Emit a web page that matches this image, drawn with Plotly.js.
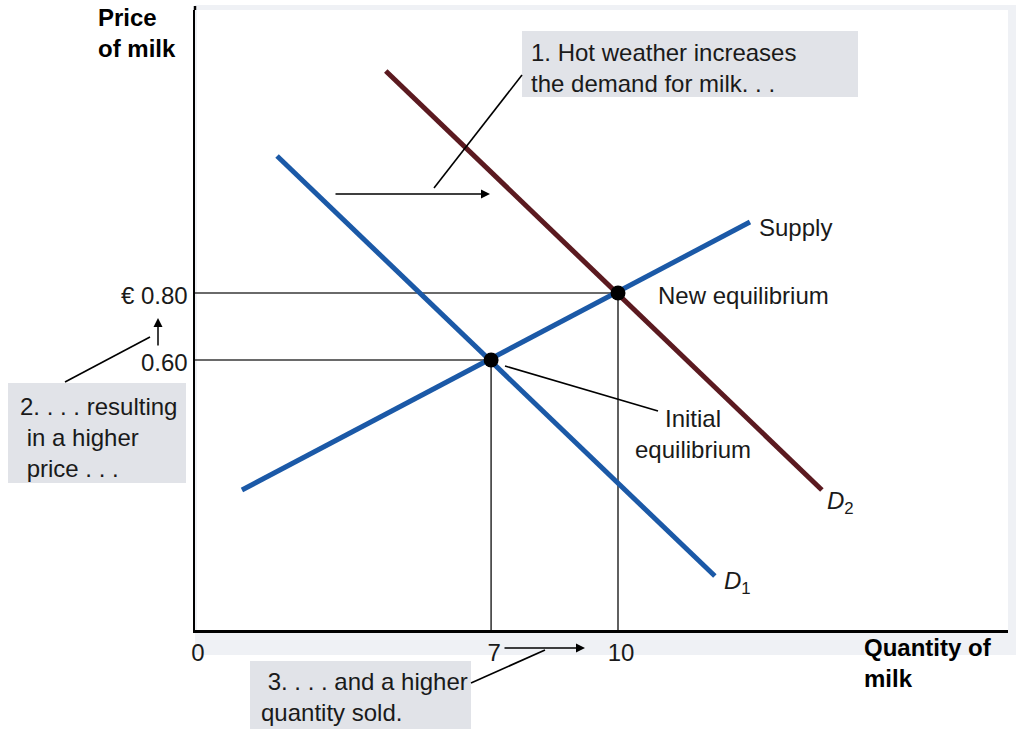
<!DOCTYPE html>
<html>
<head>
<meta charset="utf-8">
<script src="https://cdn.plot.ly/plotly-3.0.1.min.js"></script>
<style>html,body{margin:0;padding:0;background:#fff;}#chart{width:1016px;height:729px;}</style>
</head>
<body>
<div id="chart"></div>
<script>
// ---- data ----
const quantityTicks = [0, 7, 10];
const quantityTickText = ["0", "7", "10"];
const priceTicks = [0.6, 0.8];
const priceTickText = ["0.60", "€ 0.80"];

const d1Quantity = [1.94, 12.29];
const d1Price = [1.209, -0.045];
const d2Quantity = [4.51, 14.82];
const d2Price = [1.463, 0.212];
const supplyQuantity = [1.11, 13.12];
const supplyPrice = [0.212, 1.012];

const eqQuantity = [7, 10];
const eqPrice = [0.6, 0.8];

// ---- layout helpers (pixel -> paper) ----
const L = 195, R = 8, T = 10, B = 99, W = 1016, H = 729;
const pw = W - L - R, ph = H - T - B;
const X = px => (px - L) / pw;
const Y = py => (H - B - py) / ph;

const yMin = -0.206, yMax = 1.645;
const FONT = "Liberation Sans, Arial, sans-serif";
const FS = 24;
const BLUE = "#1b59a7", MAROON = "#5b1a20", GUIDE = "#3a3a3a", BOX = "#e1e3e8";

const traces = [];
// guide lines from equilibria to axes
eqQuantity.forEach((q, i) => {
  traces.push({
    x: [0, q, q], y: [eqPrice[i], eqPrice[i], yMin],
    mode: "lines", line: {color: GUIDE, width: 1.6}, hoverinfo: "skip", showlegend: false
  });
});
traces.push({x: supplyQuantity, y: supplyPrice, mode: "lines", line: {color: BLUE, width: 5}, name: "Supply", showlegend: false});
traces.push({x: d1Quantity, y: d1Price, mode: "lines", line: {color: BLUE, width: 5}, name: "D1", showlegend: false});
traces.push({x: d2Quantity, y: d2Price, mode: "lines", line: {color: MAROON, width: 5}, name: "D2", showlegend: false});
traces.push({x: eqQuantity, y: eqPrice, mode: "markers", marker: {color: "#000", size: 15}, showlegend: false});

function line(x0, y0, x1, y1) {
  return {type: "line", xref: "paper", yref: "paper", x0: X(x0), y0: Y(y0), x1: X(x1), y1: Y(y1),
          line: {color: "#000", width: 1.6}};
}
function rect(x0, y0, x1, y1, fill, layer) {
  return {type: "rect", xref: "paper", yref: "paper", x0: X(x0), y0: Y(y0), x1: X(x1), y1: Y(y1),
          fillcolor: fill, line: {width: 0}, layer: layer || "above"};
}
const shapes = [
  rect(195, 5, 1016, 655, "#eff1f5", "below"),
  rect(197, 10, 1008, 630, "#ffffff", "below"),
  rect(522, 31, 858, 97, BOX),
  rect(8, 383, 186, 483, BOX),
  rect(250, 661, 471, 729, BOX),
  line(522, 75, 434, 188),
  line(65, 382, 150, 337),
  line(471, 683, 545, 650),
  line(505, 366, 658, 411),
  // y axis extends slightly above the plot top
  {type: "line", xref: "paper", yref: "paper", x0: 0, x1: 0, y0: 1, y1: Y(6), line: {color: "#000", width: 2.5}}
];

function txt(text, px, py, xanchor, opts) {
  return Object.assign({
    text: text, xref: "paper", yref: "paper", x: X(px), y: Y(py), xanchor: xanchor, yanchor: "middle",
    showarrow: false, align: xanchor === "center" ? "center" : "left",
    font: {family: FONT, size: FS, color: "#1a1a1a"}
  }, opts || {});
}
function arrow(x0, y0, x1, y1) {
  return {xref: "paper", yref: "paper", axref: "paper", ayref: "paper",
          x: X(x1), y: Y(y1), ax: X(x0), ay: Y(y0), text: "", showarrow: true,
          arrowhead: 2, arrowsize: 1.2, arrowwidth: 1.5, arrowcolor: "#000", standoff: 0};
}
const annotations = [
  txt("<b>Price<br>of milk</b>", 96, 33, "left", {font: {family: FONT, size: FS, color: "#000"}}),
  txt("<b>Quantity of<br>milk</b>", 862, 663, "left", {font: {family: FONT, size: FS, color: "#000"}}),
  txt("Supply", 757, 227, "left"),
  txt("New equilibrium", 656, 295, "left"),
  txt("Initial<br>equilibrium", 693, 434, "center"),
  txt("<i>D</i><sub>1</sub>", 722, 582, "left"),
  txt("<i>D</i><sub>2</sub>", 825, 502, "left"),
  txt("1. Hot weather increases<br>the demand for milk. . .", 529, 68, "left"),
  txt("2. . . . resulting<br> in a higher<br> price . . .", 18, 437, "left"),
  txt(" 3. . . . and a higher<br>quantity sold.", 259, 697, "left"),
  arrow(334, 194, 490, 194),
  arrow(158, 347, 158, 318),
  arrow(503, 648, 585, 648)
];

const layout = {
  width: W, height: H,
  margin: {l: L, r: R, t: T, b: B, pad: 0},
  paper_bgcolor: "#ffffff",
  plot_bgcolor: "rgba(0,0,0,0)",
  showlegend: false,
  hovermode: false,
  font: {family: FONT, size: FS, color: "#1a1a1a"},
  xaxis: {
    range: [0, 19.22], showgrid: false, zeroline: false,
    showline: true, linecolor: "#000", linewidth: 2.5,
    tickmode: "array", tickvals: quantityTicks, ticktext: quantityTickText,
    ticks: "", ticklabelshift: 3, tickfont: {family: FONT, size: FS, color: "#1a1a1a"}, fixedrange: true
  },
  yaxis: {
    range: [yMin, yMax], showgrid: false, zeroline: false,
    showline: true, linecolor: "#000", linewidth: 2.5,
    tickmode: "array", tickvals: priceTicks, ticktext: priceTickText,
    ticks: "", ticklabelshift: 3, tickfont: {family: FONT, size: FS, color: "#1a1a1a"}, fixedrange: true
  },
  shapes: shapes,
  annotations: annotations
};

Plotly.newPlot("chart", traces, layout, {displayModeBar: false, staticPlot: true});
</script>
</body>
</html>
